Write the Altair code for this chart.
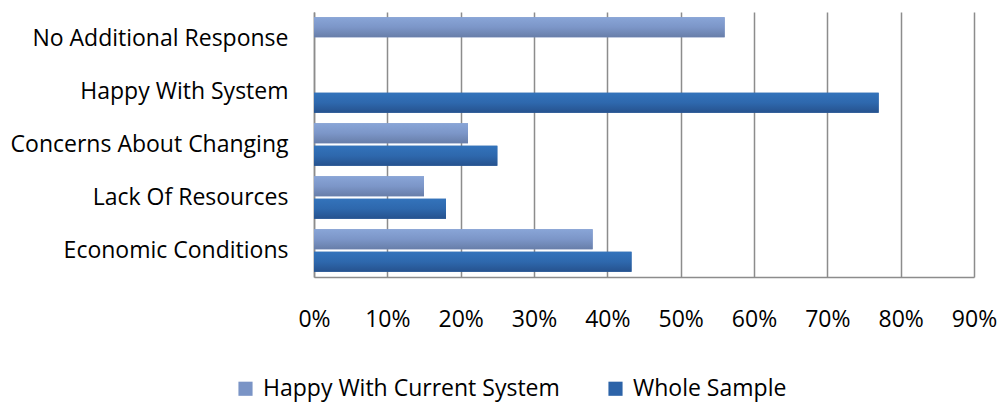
import altair as alt
import pandas as pd

categories = ["No Additional Response", "Happy With System", "Concerns About Changing",
              "Lack Of Resources", "Economic Conditions"]
series_names = ["Happy With Current System", "Whole Sample"]
happy_current = [0.56, None, 0.21, 0.15, 0.38]
whole_sample = [None, 0.77, 0.25, 0.18, 0.433]
x_ticks = [0, 0.1, 0.2, 0.3, 0.4, 0.5, 0.6, 0.7, 0.8, 0.9]

rows = []
for c, a, b in zip(categories, happy_current, whole_sample):
    if a is not None:
        rows.append({"category": c, "series": series_names[0], "value": a})
    if b is not None:
        rows.append({"category": c, "series": series_names[1], "value": b})
df = pd.DataFrame(rows)

FONT = "Open Sans"
FS = 23
light_solid = "#7a94c6"
dark_solid = "#2c63a8"

light_grad = alt.Gradient(gradient="linear", x1=0, x2=0, y1=0, y2=1,
                          stops=[alt.GradientStop(color="#89a5d7", offset=0),
                                 alt.GradientStop(color="#7c96c8", offset=0.5),
                                 alt.GradientStop(color="#687ea9", offset=1)])
dark_grad = alt.Gradient(gradient="linear", x1=0, x2=0, y1=0, y2=1,
                         stops=[alt.GradientStop(color="#3373bb", offset=0),
                                alt.GradientStop(color="#2e68ad", offset=0.5),
                                alt.GradientStop(color="#26528e", offset=1)])

x_enc = alt.X("value:Q", scale=alt.Scale(domain=[0, 0.9], nice=False),
              axis=alt.Axis(format="%", values=x_ticks, title=None, grid=True,
                            gridColor="#8c8c8c", gridWidth=1.5, domainColor="#8c8c8c",
                            domainWidth=1.5, ticks=False, labelPadding=31,
                            labelFlush=False, labelOverlap=False,
                            labelFontSize=FS, labelFont=FONT, labelColor="#000000"))
y_enc = alt.Y("category:N", sort=categories,
              scale=alt.Scale(paddingInner=0.2, paddingOuter=0.1),
              axis=alt.Axis(title=None, ticks=False, domainColor="#8c8c8c", domainWidth=1.5,
                            labelPadding=26, labelFontSize=FS, labelFont=FONT,
                            labelColor="#000000", labelLimit=400))
yoff = alt.YOffset("series:N", sort=series_names,
                   scale=alt.Scale(domain=series_names, paddingInner=0.12))

base = alt.Chart(df).encode(x=x_enc, y=y_enc, yOffset=yoff)

solid = base.mark_bar().encode(
    color=alt.Color("series:N", sort=series_names,
                    scale=alt.Scale(domain=series_names, range=[light_solid, dark_solid]),
                    legend=alt.Legend(title=None, orient="none", direction="horizontal",
                                      legendX=-80, legendY=365, symbolType="square",
                                      symbolSize=200, symbolStrokeWidth=0,
                                      labelFontSize=FS, labelFont=FONT, labelColor="#000000",
                                      labelLimit=500, columnPadding=44, labelOffset=6))
)
light = base.mark_bar(color=light_grad).transform_filter(alt.datum.series == series_names[0])
dark = base.mark_bar(color=dark_grad).transform_filter(alt.datum.series == series_names[1])

chart = alt.layer(solid, light, dark).properties(
    width=660, height=265,
    autosize=alt.AutoSizeParams(type="none"),
    padding={"left": 314, "top": 12, "right": 25, "bottom": 128},
    background="white"
).configure_view(stroke=None)

chart.save("out.html", embed_options={"renderer": "svg", "actions": False})
